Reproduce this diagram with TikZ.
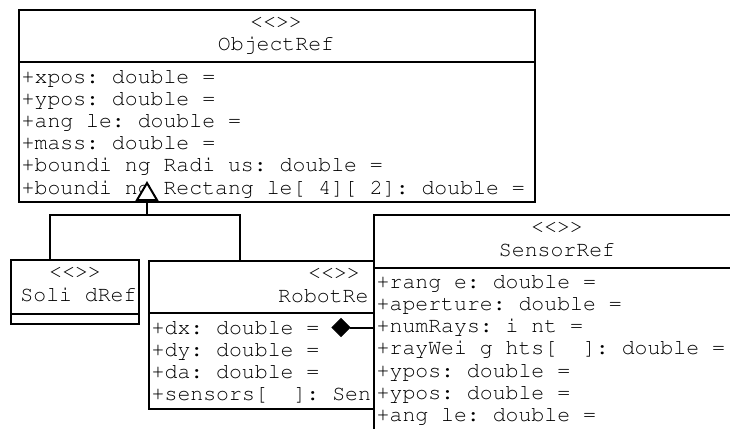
\documentclass[tikz,border=0pt]{standalone}
\usepackage[T1]{fontenc}
\begin{document}
\frenchspacing
\begin{tikzpicture}[x=1pt,y=-1pt,
  box/.style={draw=black, line width=2pt, fill=white, rectangle, inner sep=0pt, anchor=north west},
  txt/.style={inner sep=0pt, anchor=base west, font=\fontfamily{pcr}\fontsize{21.5pt}{22pt}\selectfont\frenchspacing},
  ctxt/.style={inner sep=0pt, anchor=base, font=\fontfamily{pcr}\fontsize{21.5pt}{22pt}\selectfont\frenchspacing},
  sepline/.style={line width=2pt},
  conn/.style={line width=2pt, line join=miter}]
\useasboundingbox (0,0) rectangle (730,428);
\clip (0,0) rectangle (730,428);
% ObjectRef
\node[box, minimum width=516pt, minimum height=192pt] (obj) at (18,9) {};
\draw[sepline] (obj.west |- 0,62) -- (obj.east |- 0,62);
\node[ctxt] (objst) at (276,28.5) {<\kern0pt<>\kern0pt>};
\node[ctxt] (objname) at (276,51) {ObjectRef};
\node[txt] (o1) at (21.5,83) {+xpos: double =};
\node[txt] (o2) at (21.5,105.2) {+ypos: double =};
\node[txt] (o3) at (21.5,127.4) {+ang le: double =};
\node[txt] (o4) at (21.5,149.6) {+mass: double =};
\node[txt] (o5) at (21.5,171.8) {+boundi ng Radi us: double =};
\node[txt] (o6) at (21.5,194) {+boundi ng Rectang le[ 4][ 2]: double =};
% SolidRef
\node[box, minimum width=128pt, minimum height=64pt] (solid) at (10,259) {};
\draw[sepline] (solid.west |- 0,314) -- (solid.east |- 0,314);
\node[ctxt] (solst) at (75,278.5) {<\kern0pt<>\kern0pt>};
\node[ctxt] (solname) at (78.5,301) {Soli dRef};
% RobotRef
\node[box, minimum width=372pt, minimum height=148pt] (robot) at (148,260) {};
\draw[sepline] (robot.west |- 0,313) -- (robot.east |- 0,313);
\node[ctxt] (robst) at (334,279.5) {<\kern0pt<>\kern0pt>};
\node[txt] (robname) at (278,302) {RobotRe};
\node[txt] (r1) at (151.5,334) {+dx: double =};
\node[txt] (r2) at (151.5,356.3) {+dy: double =};
\node[txt] (r3) at (151.5,378.6) {+da: double =};
\node[txt] (r4) at (151.5,400.9) {+sensors[~~]: Sen};
% generalization
\coordinate (gtip) at (147,183);
\coordinate (gbase) at (147,200);
\draw[conn] (gbase) -- ++(0,15) coordinate (gj);
\draw[conn] ([xshift=40pt]solid.north west) |- (gj) -| ([xshift=92pt]robot.north west);
\draw[conn, fill=white] (gtip) -- ++(-10,17) -- ++(20,0) -- cycle;
% SensorRef
\node[box, minimum width=368pt, minimum height=250pt] (sensor) at (373,214) {};
\draw[sepline] (sensor.west |- 0,268) -- (sensor.east |- 0,268);
\node[ctxt] (senst) at (557,233.5) {<\kern0pt<>\kern0pt>};
\node[ctxt] (senname) at (557,256) {SensorRef};
\node[txt] (s1) at (376.5,288) {+rang e: double =};
\node[txt] (s2) at (376.5,310.3) {+aperture: double =};
\node[txt] (s3) at (376.5,332.6) {+numRays: i nt =};
\node[txt] (s4) at (376.5,354.9) {+rayWei g hts[~~]: double =};
\node[txt] (s5) at (376.5,377.2) {+ypos: double =};
\node[txt] (s6) at (376.5,399.5) {+ypos: double =};
\node[txt] (s7) at (376.5,421.8) {+ang le: double =};
% composition
\coordinate (dia) at (332,327.5);
\draw[conn] ([xshift=18pt]dia) -- (sensor.west |- dia);
\filldraw[line width=1pt, line join=miter] (dia) -- ++(9,-9) -- ++(9,9) -- ++(-9,9) -- cycle;
\end{tikzpicture}
\end{document}
